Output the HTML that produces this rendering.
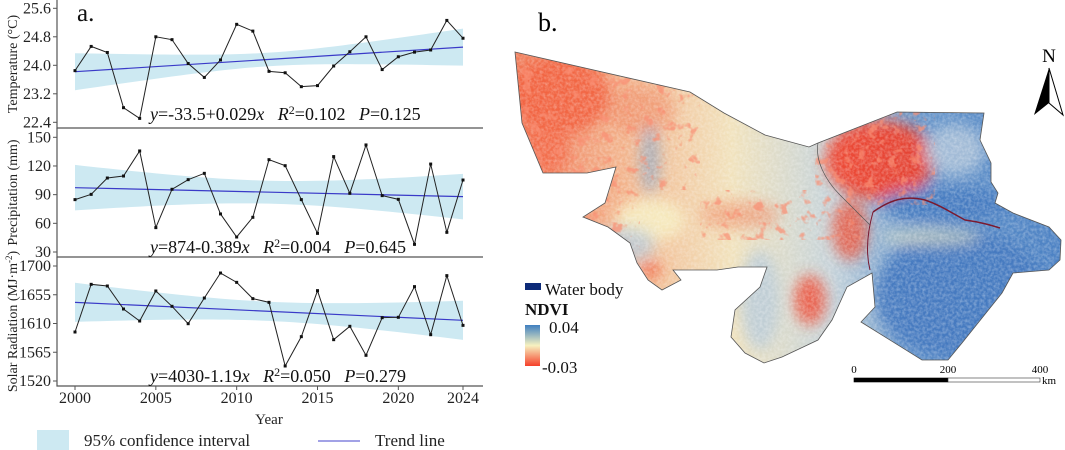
<!DOCTYPE html>
<html><head><meta charset="utf-8"><style>
html,body{margin:0;padding:0;background:#fff;}
svg{display:block;font-family:"Liberation Serif",serif;}
</style></head><body>
<svg id="fig" width="1065" height="450" viewBox="0 0 1065 450">
<defs>
<linearGradient id="ndviBar" x1="0" y1="0" x2="0" y2="1">
<stop offset="0" stop-color="#3f7fc0"/><stop offset="0.5" stop-color="#f7f2c0"/><stop offset="1" stop-color="#f5402a"/>
</linearGradient>
<linearGradient id="mapBase" x1="0" y1="0" x2="1" y2="0">
<stop offset="0" stop-color="#f07a58"/><stop offset="0.22" stop-color="#f3b890"/><stop offset="0.4" stop-color="#f1e2bc"/><stop offset="0.58" stop-color="#c5d3da"/><stop offset="0.72" stop-color="#6a98cb"/><stop offset="1" stop-color="#4a80c3"/>
</linearGradient>
<filter id="blur8"><feGaussianBlur stdDeviation="7"/></filter>
<filter id="noise" x="0" y="0" width="1" height="1">
<feTurbulence type="fractalNoise" baseFrequency="0.35" numOctaves="2" seed="3"/>
<feColorMatrix type="matrix" values="0 0 0 0 1  0 0 0 0 1  0 0 0 0 1  0 0 0 -1.6 1.1"/>
</filter>
<filter id="speck" x="0" y="0" width="1" height="1">
<feTurbulence type="fractalNoise" baseFrequency="0.09" numOctaves="3" seed="7"/>
<feColorMatrix type="matrix" values="0 0 0 0 0.95  0 0 0 0 0.27  0 0 0 0 0.17  7 0 0 0 -4.1"/>
</filter>
<clipPath id="mapClip"><polygon id="mapPoly" points="515,52 690,92 724,113 765,135 809,147 818,143 897,112 984,113 980,140 991,163 991,182 998,193 995,203 1013,213 1049,227 1061,240 1060,260 1049,270 1013,273 1002,293 962,343 948,360 922,360 861,322 875,307 872,273 847,287 832,320 818,340 782,357 764,363 745,353 731,337 735,310 760,287 767,267 738,267 717,270 673,270 681,280 662,290 648,280 637,263 630,243 608,227 583,217 605,203 616,167 587,173 543,173 522,123"/></clipPath>
<clipPath id="westClip"><rect x="510" y="40" width="130" height="330"/><rect x="640" y="40" width="60" height="150"/><rect x="815" y="105" width="120" height="100"/><rect x="700" y="190" width="160" height="50"/></clipPath>
</defs>

<g id="panelA"></g>

<g>
<text x="538" y="31" font-size="26">b.</text>
<g clip-path="url(#mapClip)">
<rect x="510" y="50" width="555" height="320" fill="url(#mapBase)"/>
<g filter="url(#blur8)">
<ellipse cx="560" cy="95" rx="50" ry="40" fill="#f2603f" opacity="0.9"/>
<ellipse cx="545" cy="150" rx="25" ry="25" fill="#f36a48" opacity="0.85"/>
<ellipse cx="640" cy="110" rx="35" ry="25" fill="#f08a65" opacity="0.6"/>
<ellipse cx="650" cy="160" rx="10" ry="35" fill="#7ea4cc" opacity="0.6"/>
<ellipse cx="650" cy="220" rx="35" ry="22" fill="#f6ecc0" opacity="0.9"/>
<ellipse cx="625" cy="245" rx="30" ry="18" fill="#b6c9d8" opacity="0.8"/>
<ellipse cx="740" cy="215" rx="40" ry="14" fill="#f08a65" opacity="0.6"/>
<ellipse cx="760" cy="300" rx="20" ry="50" fill="#b8cada" opacity="0.8"/>
<ellipse cx="880" cy="160" rx="55" ry="40" fill="#f23b25" opacity="0.9"/>
<ellipse cx="850" cy="230" rx="18" ry="30" fill="#f04a2e" opacity="0.75"/>
<ellipse cx="810" cy="300" rx="16" ry="25" fill="#f0492e" opacity="0.8"/>
<ellipse cx="955" cy="150" rx="30" ry="25" fill="#a8c0d8" opacity="0.9"/>
<ellipse cx="960" cy="295" rx="85" ry="65" fill="#4479c0" opacity="0.95"/>
<ellipse cx="945" cy="205" rx="65" ry="18" fill="#4479c0" opacity="0.9"/>
<ellipse cx="930" cy="237" rx="50" ry="8" fill="#e8e4c0" opacity="0.6"/>
<ellipse cx="690" cy="330" rx="25" ry="20" fill="#9fbbd6" opacity="0.8"/>
<ellipse cx="650" cy="270" rx="12" ry="8" fill="#f05a3a" opacity="0.8"/>
</g>
<rect x="510" y="50" width="555" height="320" filter="url(#noise)" fill="#fff" opacity="0.35"/>
<rect x="510" y="40" width="555" height="330" filter="url(#speck)" clip-path="url(#westClip)" opacity="0.7"/>
<path d="M873,212 C890,200 905,195 925,200 C940,205 950,212 965,220 C980,222 990,225 1000,228" fill="none" stroke="#7a1a30" stroke-width="1.5"/>
<path d="M873,212 C868,230 865,250 870,270" fill="none" stroke="#7a1a30" stroke-width="1"/>
</g>
<use href="#mapPoly" fill="none" stroke="#555" stroke-width="0.8"/>
<path d="M818,143 C815,160 825,180 840,195 C850,205 860,215 870,225" fill="none" stroke="#555" stroke-width="0.7"/>
</g>

<g>
<rect x="525" y="283" width="16" height="7" fill="#0d2a78"/>
<text x="545" y="295" font-size="17" fill="#111">Water body</text>
<text x="525" y="315" font-size="17" font-weight="bold" fill="#111">NDVI</text>
<rect x="525" y="325" width="15" height="41" fill="url(#ndviBar)"/>
<text x="549" y="333" font-size="17" fill="#111">0.04</text>
<text x="542" y="373" font-size="17" fill="#111">-0.03</text>
</g>

<g>
<rect x="854" y="378" width="94" height="4" fill="#000" stroke="#000" stroke-width="0.6"/>
<rect x="948" y="378" width="92" height="4" fill="#fff" stroke="#333" stroke-width="0.6"/>
<text x="854" y="373" font-size="11" text-anchor="middle">0</text>
<text x="948" y="373" font-size="11" text-anchor="middle">200</text>
<text x="1040" y="373" font-size="11" text-anchor="middle">400</text>
<text x="1042" y="384" font-size="11">km</text>
</g>

<g>
<text x="1049" y="62" font-size="19" text-anchor="middle">N</text>
<polygon points="1049,68 1034,115 1049,103" fill="#000"/>
<polygon points="1049,68 1063,115 1049,103" fill="#fff" stroke="#000" stroke-width="1"/>
</g>
</svg>

<script>
const years = [2000,2001,2002,2003,2004,2005,2006,2007,2008,2009,2010,2011,2012,2013,2014,2015,2016,2017,2018,2019,2020,2021,2022,2023,2024];
const tempValues = [23.85,24.53,24.36,22.81,22.51,24.80,24.72,24.05,23.66,24.15,25.15,24.96,23.83,23.79,23.40,23.43,23.98,24.38,24.80,23.88,24.24,24.37,24.43,25.26,24.76];
const precipValues = [84.8,90.3,107.4,109.5,135.7,55.5,95.6,105.7,112.3,69.8,45.7,66.3,126.6,120.3,84.8,49.5,129.8,91.4,142.0,89,85.1,38,122,50.6,105.3];
const solarValues = [1596.7,1671.3,1668.7,1632.7,1613.9,1660.9,1636.9,1609.7,1649.9,1689,1674.4,1648.9,1643.1,1543.5,1589.4,1661.4,1584.7,1605.6,1560.2,1619.1,1619.7,1667.7,1592.5,1684.9,1607.1];
const tempTicks = [25.6,24.8,24.0,23.2,22.4];
const precipTicks = [150,120,90,60,30];
const solarTicks = [1700,1655,1610,1565,1520];
const xTicks = [2000,2005,2010,2015,2020,2024];
const tempTrend = [23.82,24.51];
const precipTrend = [97.3,87.9];
const solarTrend = [1643.1,1615.0];
const tempCI = [0.52,0.19];
const precipCI = [23.8,12];
const solarCI = [30.6,15];

const NS='http://www.w3.org/2000/svg';
const root=document.getElementById('panelA');
function mk(tag,attrs,parent){const e=document.createElementNS(NS,tag);for(const k in attrs)e.setAttribute(k,attrs[k]);(parent||root).appendChild(e);return e;}
const X0=75,X1=463;
function xs(yr){return X0+(yr-years[0])/(years[years.length-1]-years[0])*(X1-X0);}

const panels=[
 {name:'temperature',vals:tempValues,ticks:tempTicks,trend:tempTrend,ci:tempCI,top:0,bottom:128,t0:8.3,t1:122.3,title:'Temperature (°C)',
  fmt:v=>v.toFixed(1),eq:['-33.5+0.029','0.102','0.125'],eqY:120},
 {name:'precipitation',vals:precipValues,ticks:precipTicks,trend:precipTrend,ci:precipCI,top:128,bottom:257,t0:137.3,t1:252,title:'Precipitation (mm)',
  fmt:v=>String(v),eq:['874-0.389','0.004','0.645'],eqY:253},
 {name:'solar-radiation',vals:solarValues,ticks:solarTicks,trend:solarTrend,ci:solarCI,top:257,bottom:386,t0:266,t1:381,title:'Solar Radiation (MJ·m',
  fmt:v=>String(v),eq:['4030-1.19','0.050','0.279'],eqY:382}
];

panels.forEach((p,pi)=>{
  const g=mk('g',{});
  
  
  const tMax=p.ticks[0],tMin=p.ticks[p.ticks.length-1];
  const ys=v=>p.t0+(tMax-v)/(tMax-tMin)*(p.t1-p.t0);
  const n=years.length,xm=(years[0]+years[n-1])/2,half=(years[n-1]-years[0])/2;
  const a=p.ci[1],b=Math.sqrt(Math.max(p.ci[0]*p.ci[0]-a*a,0))/half;
  const tr=yr=>p.trend[0]+(p.trend[1]-p.trend[0])*(yr-years[0])/(years[n-1]-years[0]);
  const hw=yr=>Math.sqrt(a*a+b*b*(yr-xm)*(yr-xm));
  let up=[],dn=[];
  for(let i=0;i<=48;i++){const yr=years[0]+i*(years[n-1]-years[0])/48;up.push(xs(yr)+','+ys(tr(yr)+hw(yr)));dn.unshift(xs(yr)+','+ys(tr(yr)-hw(yr)));}
  const band=mk('polygon',{points:up.concat(dn).join(' '),fill:'#cde9f2'},g);
  
  
  const tl=mk('line',{x1:xs(years[0]),y1:ys(p.trend[0]),x2:xs(years[n-1]),y2:ys(p.trend[1]),stroke:'#3a3ac8','stroke-width':1.2},g);
  
  
  const line=mk('polyline',{points:p.vals.map((v,i)=>xs(years[i])+','+ys(v)).join(' '),fill:'none',stroke:'#222','stroke-width':1},g);
  
  
  p.vals.forEach((v,i)=>{
    const pt=mk('rect',{x:xs(years[i])-1.5,y:ys(v)-1.5,width:3,height:3,fill:'#111'},g);
    
    
  });
  const ax=mk('path',{d:`M57,${p.top} V${p.bottom} H483`,fill:'none',stroke:'#555','stroke-width':1.2},g);
  
  
  p.ticks.forEach(t=>{
    mk('line',{x1:53,x2:57,y1:ys(t),y2:ys(t),stroke:'#555'},g);
    const tx=mk('text',{x:51,y:ys(t)+5,'font-size':16,'text-anchor':'end',fill:'#222'},g);
    tx.textContent=p.fmt(t);
    
    
  });
  const cy=(p.top+p.bottom)/2;
  const tt=mk('text',{x:0,y:0,'font-size':14,'text-anchor':'middle',fill:'#222',transform:`translate(17,${cy}) rotate(-90)`},g);
  tt.textContent=p.title;
  if(pi===2){const s=mk('tspan',{'baseline-shift':'super','font-size':9},tt);s.textContent='-2';const s2=mk('tspan',{},tt);s2.textContent=')';}
  
  
  const eq=mk('text',{x:150,y:p.eqY,'font-size':18,fill:'#111'},g);
  
  
  const parts=[['y','i',0],['='+p.eq[0],'',0],['x','i',0],['\u00a0\u00a0\u00a0','',0],['R','i',0],['2','s',-6],['='+p.eq[1]+'\u00a0\u00a0\u00a0','',6],['P','i',0],['='+p.eq[2],'',0]];
  parts.forEach(([t,st,dy])=>{const s=mk('tspan',{},eq);if(st==='i')s.setAttribute('font-style','italic');if(st==='s')s.setAttribute('font-size','12');if(dy)s.setAttribute('dy',dy);s.textContent=t;});
});

xTicks.forEach(t=>{
  mk('line',{x1:xs(t),x2:xs(t),y1:386,y2:390,stroke:'#555'});
  const tx=mk('text',{x:xs(t),y:403,'font-size':16,'text-anchor':'middle',fill:'#222'});
  tx.textContent=t;
  
  
});
const xt=mk('text',{x:269,y:424,'font-size':15,'text-anchor':'middle',fill:'#222'});
xt.textContent='Year';


const al=mk('text',{x:77,y:21,'font-size':25,fill:'#111'});
al.textContent='a.';


const lg=mk('g',{});


const ls=mk('rect',{x:37,y:430,width:32,height:20,fill:'#cde9f2'},lg);


const lt1=mk('text',{x:84,y:446,'font-size':17,fill:'#222'},lg);
lt1.textContent='95% confidence interval';


const ll=mk('line',{x1:318,x2:360,y1:441,y2:441,stroke:'#6a6ad8','stroke-width':1.2},lg);


const lt2=mk('text',{x:375,y:446,'font-size':17,fill:'#222'},lg);
lt2.textContent='Trend line';


</script>
</body></html>
